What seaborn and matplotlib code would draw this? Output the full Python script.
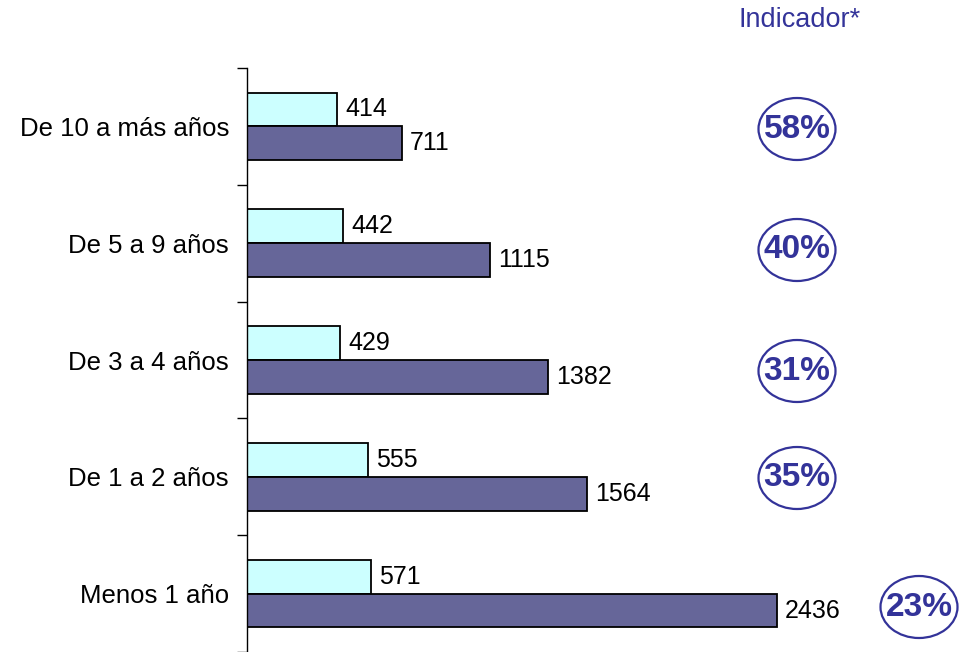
import numpy as np
import pandas as pd
import seaborn as sns
import matplotlib.pyplot as plt
from matplotlib.patches import Ellipse

categories = ["De 10 a más años", "De 5 a 9 años", "De 3 a 4 años", "De 1 a 2 años", "Menos 1 año"]
series_a = [414, 442, 429, 555, 571]
series_b = [711, 1115, 1382, 1564, 2436]
indicador = ["58%", "40%", "31%", "35%", "23%"]

df = pd.DataFrame({
    "cat": categories * 2,
    "valor": series_a + series_b,
    "serie": ["A"] * len(categories) + ["B"] * len(categories),
})

sns.set_style("white")
plt.rcParams['font.family'] = ['Liberation Sans', 'DejaVu Sans']
plt.rcParams['text.color'] = 'black'

fig = plt.figure(figsize=(9.71, 6.52), dpi=100)
ax = fig.add_axes([247 / 971, 0.0, 1 - 247 / 971, 1 - 68 / 652])

sns.barplot(data=df, y="cat", x="valor", hue="serie", order=categories,
            hue_order=["A", "B"], palette=["#ccffff", "#666699"],
            saturation=1, width=0.58, orient="h", edgecolor="black",
            linewidth=1.3, ax=ax, legend=False)

ax.set_xlim(0, 724 / 0.2175)
ax.set_ylim(len(categories) - 0.5, -0.5)

for cont in ax.containers:
    ax.bar_label(cont, labels=[str(int(v)) for v in cont.datavalues],
                 padding=6, fontsize=18, color="black")

for s in ["top", "right", "bottom"]:
    ax.spines[s].set_visible(False)
ax.spines["left"].set_color("black")
ax.spines["left"].set_linewidth(1.0)

ax.set_yticks(range(len(categories)))
ax.set_yticklabels(categories, fontsize=18.5, color="black")
ax.tick_params(axis="y", which="major", left=False, length=0, pad=13)
ax.set_yticks(np.arange(-0.5, len(categories), 1.0), minor=True)
ax.tick_params(axis="y", which="minor", left=True, length=7, width=1,
               color="black", direction="out")
ax.set_xticks([])
ax.set_xlabel("")
ax.set_ylabel("")

# indicador column
ind_color = "#333399"
fig.text(800 / 971, 1 - 20 / 652, "Indicador*", color=ind_color, fontsize=19.5,
         ha="center", va="center")
centers = [(797, 129), (797, 250), (797, 371), (797, 478), (919, 607)]
for (cx, cy), txt in zip(centers, indicador):
    x = cx / 971
    y = 1 - cy / 652
    fig.add_artist(Ellipse((x, y), 77 / 971, 62 / 652, transform=fig.transFigure,
                           facecolor="none", edgecolor=ind_color, linewidth=1.6))
    fig.text(x, y, txt, color=ind_color, fontsize=24, fontweight="bold",
             ha="center", va="center")

fig.savefig("out.png", dpi=100, facecolor="white")
